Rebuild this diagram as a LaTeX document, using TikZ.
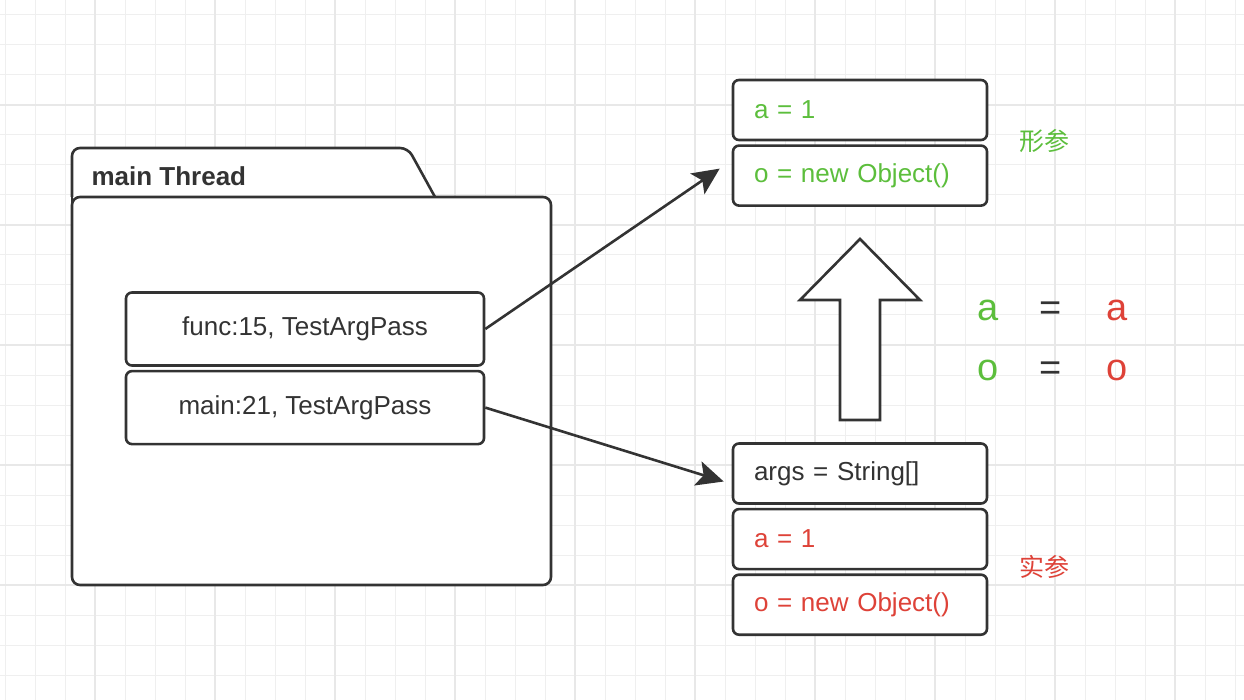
\documentclass[tikz,border=0pt]{standalone}
\usepackage{fontspec}
\setmainfont{Liberation Sans}
\newfontfamily\cjk{Noto Sans CJK SC}
\usetikzlibrary{positioning,arrows.meta}

\definecolor{ink}{RGB}{51,51,51}
\definecolor{formal}{RGB}{92,190,60}
\definecolor{actual}{RGB}{222,66,56}
\definecolor{gridminor}{RGB}{239,239,239}
\definecolor{gridmajor}{RGB}{232,232,232}

\tikzset{
  frame/.style={draw=ink,line width=2.6pt,rounded corners=6pt,fill=white},
  stackbox/.style={frame,minimum width=358pt,minimum height=73pt,
    font=\fontsize{26}{30}\selectfont,text=ink},
  slotbox/.style={frame,text width=212pt,inner xsep=21pt,minimum height=60pt,
    align=left,font=\fontsize{26}{30}\selectfont},
  conn/.style={draw=ink,line width=2.6pt,-{Stealth[length=27pt,width=25pt,inset=6pt]}},
  bigsym/.style={font=\fontsize{38}{44}\selectfont,anchor=base}
}

\begin{document}
\begin{tikzpicture}[x=1pt,y=-1pt]
\useasboundingbox (0,0) rectangle (1244,700);

% Draw grid
\foreach \gx in {5,35,...,1244} \draw[gridminor,line width=1pt] (\gx,0) -- (\gx,700);
\foreach \gy in {15,45,...,700} \draw[gridminor,line width=1pt] (0,\gy) -- (1244,\gy);
\foreach \gx in {95,215,...,1244} \draw[gridmajor,line width=1.2pt] (\gx,0) -- (\gx,700);
\foreach \gy in {105,225,...,700} \draw[gridmajor,line width=1.2pt] (0,\gy) -- (1244,\gy);

% Draw thread folder
\draw[frame,rounded corners=8pt] (72,197) -- (72,148) -- (408,148) -- (435,197);
\draw[frame,rounded corners=8pt] (72,197) rectangle (551,585);
\draw[draw=ink,line width=2.6pt] (72,185) -- (72,212);
\node[anchor=west,text=ink,font=\fontsize{26}{30}\selectfont\bfseries] (thread) at (88,176) {main Thread};

% Draw stack frames
\node[stackbox] (func) at (305,329) {func:15, TestArgPass};
\node[stackbox,below=3pt of func] (main) {main:21, TestArgPass};

% Draw parameter slots
\node[slotbox,text=formal] (fa) at (860,110) {a = 1};
\node[slotbox,text=formal,below=3pt of fa] (fo) {o = new Object()};
\node[slotbox,text=ink] (args) at (860,473.5) {args = String[]};
\node[slotbox,text=actual,below=3pt of args] (aa) {a = 1};
\node[slotbox,text=actual,below=3pt of aa] (ao) {o = new Object()};

% Draw arrows
\draw[conn] (func.east) -- ([xshift=-12pt,yshift=7pt]fo.west);
\draw[conn] (main.east) -- ([xshift=-8pt,yshift=-8pt]args.west);

% Draw copy arrow
\draw[draw=ink,fill=white,line width=2.6pt,line join=miter]
  (860,239) -- (920,300) -- (880,300) -- (880,420) -- (840,420) -- (840,300) -- (800,300) -- cycle;

% Add labels
\node[text=formal,font=\cjk\fontsize{25}{29}\selectfont] (formallbl) at (1044,141) {形参};
\node[text=actual,font=\cjk\fontsize{25}{29}\selectfont] (actuallbl) at (1044,567) {实参};

% Add equalities
\node[bigsym,text=formal] (lhsa) at (988,320) {a};
\node[bigsym,text=ink] (eqa) at (1051,320) {=};
\node[bigsym,text=actual] (rhsa) at (1117,320) {a};
\node[bigsym,text=formal] (lhso) at (988,380) {o};
\node[bigsym,text=ink] (eqo) at (1051,380) {=};
\node[bigsym,text=actual] (rhso) at (1117,380) {o};
\end{tikzpicture}
\end{document}
